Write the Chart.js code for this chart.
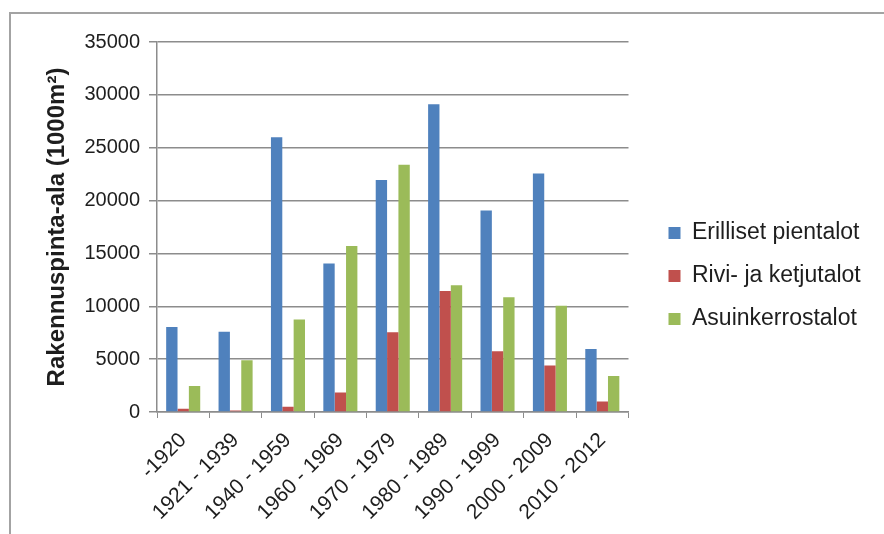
<!DOCTYPE html>
<html>
<head>
<meta charset="utf-8">
<script src="https://cdn.jsdelivr.net/npm/chart.js@4.4.0/dist/chart.umd.min.js"></script>
<style>
  html, body { margin: 0; padding: 0; background: #fff; }
  #wrap { position: relative; width: 884px; height: 534px; overflow: hidden; }
  #frame { position: absolute; left: 9px; top: 12px; width: 900px; height: 560px;
           border-left: 2px solid #a3a3a3; border-top: 2px solid #a3a3a3; }
  #chart { position: absolute; left: 0; top: 0; }
</style>
</head>
<body>
<div id="wrap">
  <div id="frame"></div>
  <canvas id="chart" width="884" height="534"></canvas>
</div>
<script>
// kaudet (rakennusvuosi)
const periods = ['-1920', '1921 - 1939', '1940 - 1959', '1960 - 1969', '1970 - 1979',
                 '1980 - 1989', '1990 - 1999', '2000 - 2009', '2010 - 2012'];

// rakennuspinta-ala, 1000 m2
const erilliset = [8050, 7600, 26000, 14050, 21950, 29100, 19050, 22550, 5950];
const rivitalot = [300, 150, 500, 1850, 7550, 11450, 5750, 4400, 1000];
const kerrostalot = [2450, 4900, 8750, 15700, 23400, 12000, 10850, 10050, 3400];

const yTicks = [0, 5000, 10000, 15000, 20000, 25000, 30000, 35000];

const textColor = '#1e1e1e';
const lineColor = '#8c8c8c';
const fontFam = 'Liberation Sans, Arial, sans-serif';

// siirretään selitettä hieman oikealle ja ylös kuten alkuperäisessä
const legendShift = {
  id: 'legendShift',
  afterLayout(chart) {
    const lg = chart.legend;
    if (!lg) return;
    lg.left += 20;
    lg.right = chart.width;
    lg.width = lg.right - lg.left;
    lg.top -= 12; lg.bottom -= 12;
  }
};

const ctx = document.getElementById('chart').getContext('2d');
new Chart(ctx, {
  type: 'bar',
  data: {
    labels: periods,
    datasets: [
      { label: 'Erilliset pientalot', data: erilliset, backgroundColor: '#4f81bd' },
      { label: 'Rivi- ja ketjutalot', data: rivitalot, backgroundColor: '#c0504d' },
      { label: 'Asuinkerrostalot', data: kerrostalot, backgroundColor: '#9bbb59' }
    ]
  },
  options: {
    responsive: false,
    animation: false,
    datasets: { bar: { barPercentage: 1, categoryPercentage: 0.65 } },
    layout: { padding: { top: 42, right: 46, bottom: 0, left: 0 } },
    plugins: {
      tooltip: { enabled: false },
      legend: {
        position: 'right',
        labels: {
          color: textColor,
          font: { family: fontFam, size: 23 },
          boxWidth: 12,
          boxHeight: 12,
          padding: 20
        }
      }
    },
    scales: {
      x: {
        grid: { display: true, drawOnChartArea: false, color: lineColor, tickLength: 6 },
        border: { color: lineColor, width: 1.5 },
        ticks: {
          color: textColor,
          font: { family: fontFam, size: 21 },
          minRotation: 45, maxRotation: 45,
          autoSkip: false,
          padding: 10
        },
        afterFit(scale) { scale.height = 122; }
      },
      y: {
        min: 0,
        max: 35000,
        afterBuildTicks(scale) { scale.ticks = yTicks.map(v => ({ value: v })); },
        grid: { color: lineColor, lineWidth: 1.5, tickLength: 8 },
        border: { color: lineColor, width: 1.5 },
        ticks: {
          color: textColor,
          font: { family: fontFam, size: 20 },
          padding: 9,
          callback: v => String(v)
        },
        title: {
          display: true,
          text: 'Rakennuspinta-ala (1000m²)',
          color: textColor,
          font: { family: fontFam, size: 24, weight: 'bold' },
          padding: { top: 43, bottom: 0 }
        },
        afterFit(scale) { scale.width = 157; }
      }
    }
  },
  plugins: [legendShift]
});
</script>
</body>
</html>
